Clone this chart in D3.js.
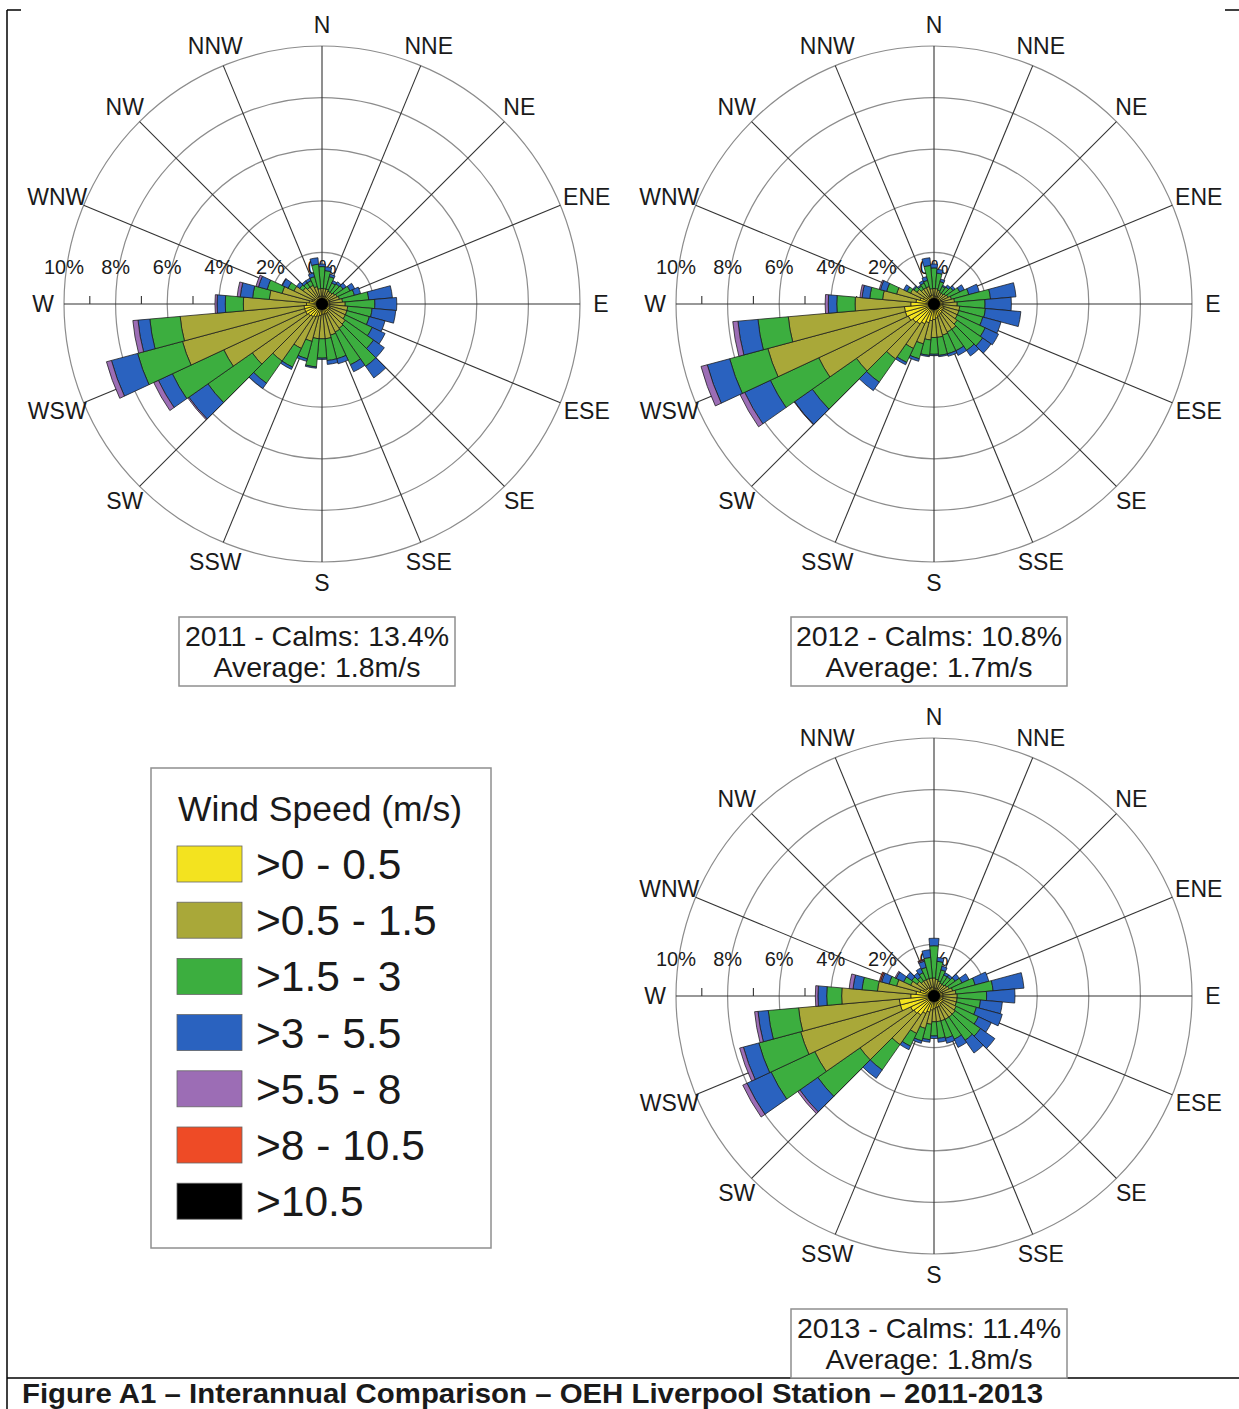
<!DOCTYPE html>
<html>
<head>
<meta charset="utf-8">
<title>Wind Roses - OEH Liverpool</title>
<style>
body { margin: 0; background: #fff; }
svg text { font-family: "Liberation Sans", Arial, Helvetica, sans-serif; fill: #1a1a1a; }
.ring { fill: none; stroke: #8c8c8c; stroke-width: 1.2px; }
.spoke { stroke: #333; stroke-width: 1.1px; }
.seg { stroke: #1a1a1a; stroke-width: 0.75px; }
.box { fill: #fff; stroke: #8f8f8f; stroke-width: 1.5px; }
.frame { stroke: #000; stroke-width: 1.5px; }
</style>
</head>
<body>
<script src="https://cdn.jsdelivr.net/npm/d3@7"></script>
<script>

// ---- Data ----

var directions = [0, 10, 20, 30, 40, 50, 60, 70, 80, 90, 100, 110, 120, 130, 140, 150, 160, 170,
                  180, 190, 200, 210, 220, 230, 240, 250, 260, 270, 280, 290, 300, 310, 320, 330, 340, 350];

var compassLabels = ["N", "NNE", "NE", "ENE", "E", "ESE", "SE", "SSE",
                     "S", "SSW", "SW", "WSW", "W", "WNW", "NW", "NNW"];

var ringValues = [2, 4, 6, 8, 10];
var percentLabels = [0, 2, 4, 6, 8, 10];
var minorTicks = [1, 3, 5, 7, 9];

var speedClasses = [">0 - 0.5", ">0.5 - 1.5", ">1.5 - 3", ">3 - 5.5", ">5.5 - 8", ">8 - 10.5", ">10.5"];
var speedColours = ["#f3e31f", "#a9a839", "#3cae3f", "#2a62bf", "#9c6db5", "#ee4b26", "#000000"];

var years = [2011, 2012, 2013];
var calms = [13.4, 10.8, 11.4];
var averages = [1.8, 1.7, 1.8];

// frequency (%) by direction, one array per speed class

var w2011_c1 = [.30,.30,.30,.30,.30,.30,.30,.30,.30,.30,.30,.30,.35,.35,.35,.40,.40,.40,
                .40,.45,.50,.55,.60,.65,.70,.70,.70,.60,.50,.40,.35,.30,.30,.30,.30,.30];
var w2011_c2 = [.30,.30,.30,.25,.25,.30,.35,.40,.50,.60,.70,.70,.65,.75,.80,.80,.85,.95,
                .95,.90,1.00,1.35,2.10,2.65,3.50,4.90,4.82,2.45,1.55,1.20,.85,.60,.50,.50,.40,.30];
var w2011_c3 = [.85,.70,.50,.35,.40,.40,.55,.60,1.02,1.15,.95,.90,1.15,1.34,1.80,1.40,.95,.85,
                .75,1.10,.70,.80,1.05,2.10,2.20,1.80,1.18,.70,.65,.60,.25,.15,.20,.20,.40,.95];
var w2011_c4 = [.10,.15,.10,.10,.10,.15,.20,.25,.92,.85,.92,.63,.55,.51,.55,.30,.20,.15,
                .05,.05,.10,.10,.25,.90,.60,1.05,.46,.32,.48,.35,.25,.15,.10,.10,.15,.25];
var w2011_c5 = [0,0,0,0,0,0,0,0,0,0,0,0,0,0,0,0,0,0,
                0,0,0,0,0,.05,.20,.20,.20,.08,.12,.10,.02,0,0,0,0,0];
var w2011_c6 = [0,0,0,0,0,0,0,0,0,0,0,0,0,0,0,0,0,0,
                0,0,0,0,0,0,0,0,0,0,0,0,0,0,0,0,0,0];
var w2011_c7 = [0,0,0,0,0,0,0,0,0,0,0,0,0,0,0,0,0,0,
                0,0,0,0,0,0,0,0,0,0,0,0,0,0,0,0,0,0];

var w2012_c1 = [.30,.30,.30,.30,.30,.30,.30,.30,.35,.35,.35,.40,.40,.40,.45,.45,.50,.55,
                .60,.65,.75,.85,.95,1.00,1.10,1.15,1.15,.90,.70,.55,.45,.35,.35,.35,.35,.35];
var w2012_c2 = [.30,.30,.25,.20,.20,.25,.30,.40,.45,.55,.65,.60,.60,.70,.75,.75,.75,.75,
                .70,.75,.85,1.05,1.65,2.67,3.83,5.52,4.52,2.16,1.30,.95,.55,.45,.35,.35,.35,.25];
var w2012_c3 = [.80,.60,.35,.25,.30,.35,.50,.70,1.40,1.08,1.00,.96,1.19,1.20,1.00,.80,.75,.70,
                .65,.60,.60,.60,1.10,2.09,2.07,1.53,1.18,.71,.50,.40,.15,.15,.15,.20,.25,.90];
var w2012_c4 = [.15,.15,.10,.05,.10,.10,.20,.42,.99,1.02,1.38,.73,.57,.40,.26,.20,.10,.05,
                .05,.05,.10,.10,.40,.84,1.10,.90,.78,.33,.30,.25,.15,.05,.05,.10,.15,.30];
var w2012_c5 = [0,0,0,0,0,0,0,0,0,0,0,0,0,0,0,0,0,0,
                0,0,0,0,0,.02,.20,.25,.20,.12,.08,.05,0,0,0,0,0,0];
var w2012_c6 = [0,0,0,0,0,0,0,0,0,0,0,0,0,0,0,0,0,0,
                0,0,0,0,0,0,0,0,0,0,0,0,0,0,0,0,0,0];
var w2012_c7 = [0,0,0,0,0,0,0,0,0,0,0,0,0,0,0,0,0,0,
                0,0,0,0,0,0,0,0,0,0,0,0,0,0,0,0,0,0];

var w2013_c1 = [.30,.30,.30,.30,.30,.30,.30,.35,.35,.35,.35,.35,.40,.40,.40,.45,.45,.45,
                .50,.55,.65,.75,.90,.95,1.00,1.35,1.35,.90,.70,.55,.45,.40,.40,.35,.35,.35];
var w2013_c2 = [.40,.35,.30,.25,.25,.30,.35,.40,.50,.55,.55,.55,.55,.60,.60,.55,.55,.55,
                .50,.55,.65,.85,1.40,2.55,4.10,4.00,3.92,2.68,1.50,.95,.55,.40,.30,.35,.35,.35];
var w2013_c3 = [1.25,.70,.45,.35,.35,.40,.55,.90,1.45,1.14,.91,.80,.95,1.20,1.10,.85,.70,.65,
                .55,.60,.50,.55,1.20,2.00,1.87,1.68,1.18,.58,.60,.30,.30,.25,.20,.30,.45,.80];
var w2013_c4 = [.29,.15,.15,.10,.10,.20,.30,.55,1.20,1.10,.85,1.04,.55,.68,.60,.35,.20,.15,
                .10,.10,.10,.15,.40,.85,1.03,.62,.40,.34,.35,.30,.32,.25,.20,.20,.25,.30];
var w2013_c5 = [0,0,0,0,0,0,0,0,0,0,0,0,0,0,0,0,0,0,
                0,0,0,0,0,.10,.18,.15,.13,.10,.15,.05,.05,0,0,0,.05,0];
var w2013_c6 = [0,0,0,0,0,0,0,0,0,0,0,0,0,0,0,0,0,0,
                0,0,0,0,0,0,0,0,0,0,0,.05,0,0,0,0,.03,0];
var w2013_c7 = [0,0,0,0,0,0,0,0,0,0,0,0,0,0,0,0,0,0,
                0,0,0,0,0,0,0,0,0,0,0,0,0,0,0,0,0,0];

// ---- Layout ----

var width = 1239, height = 1409;
var R = 258;            // radius of the 10% ring
var centres = [[322, 304], [934, 304], [934, 996]];
var boxes = [[179, 617], [791, 617], [791, 1309]];

var roses = [
    [w2011_c1, w2011_c2, w2011_c3, w2011_c4, w2011_c5, w2011_c6, w2011_c7],
    [w2012_c1, w2012_c2, w2012_c3, w2012_c4, w2012_c5, w2012_c6, w2012_c7],
    [w2013_c1, w2013_c2, w2013_c3, w2013_c4, w2013_c5, w2013_c6, w2013_c7]
];

var rad = d3.scaleLinear().domain([0, 10]).range([0, R]);
var half = 5 * Math.PI / 180;
var arc = d3.arc();

var svg = d3.select("body").append("svg")
    .attr("width", width)
    .attr("height", height);

// page frame
svg.append("line").attr("class", "frame").attr("x1", 7).attr("y1", 10).attr("x2", 7).attr("y2", height);
svg.append("line").attr("class", "frame").attr("x1", 7).attr("y1", 10).attr("x2", 21).attr("y2", 10);
svg.append("line").attr("class", "frame").attr("x1", 1225).attr("y1", 10).attr("x2", width).attr("y2", 10);
svg.append("line").attr("class", "frame").attr("x1", 7).attr("y1", 1378).attr("x2", width).attr("y2", 1378);

function drawRose(i) {
    var g = svg.append("g")
        .attr("transform", "translate(" + centres[i][0] + "," + centres[i][1] + ")");

    g.selectAll(".ring")
        .data(ringValues)
        .enter().append("circle")
        .attr("class", "ring")
        .attr("r", function(d) { return rad(d); });

    g.selectAll(".spoke")
        .data(compassLabels)
        .enter().append("line")
        .attr("class", "spoke")
        .attr("x1", 0).attr("y1", 0)
        .attr("x2", function(d, k) { return R * Math.sin(k * 22.5 * Math.PI / 180); })
        .attr("y2", function(d, k) { return -R * Math.cos(k * 22.5 * Math.PI / 180); });

    // minor ticks on the west axis
    g.selectAll(".tick")
        .data(minorTicks)
        .enter().append("line")
        .attr("class", "spoke")
        .attr("x1", function(d) { return -rad(d); })
        .attr("x2", function(d) { return -rad(d); })
        .attr("y1", 0).attr("y2", -8);

    g.selectAll(".pct")
        .data(percentLabels)
        .enter().append("text")
        .attr("x", function(d) { return -rad(d); })
        .attr("y", -30)
        .attr("text-anchor", "middle")
        .style("font-size", "20px")
        .text(function(d) { return d + "%"; });

    // stacked sectors
    var segs = [];
    var cls = roses[i];
    directions.forEach(function(dir, di) {
        var cum = 0;
        cls.forEach(function(arr, ci) {
            var v = arr[di];
            if (v > 0) {
                segs.push({dir: dir, inner: cum, outer: cum + v, cls: ci});
                cum += v;
            }
        });
    });

    g.selectAll(".seg")
        .data(segs)
        .enter().append("path")
        .attr("class", "seg")
        .attr("fill", function(d) { return speedColours[d.cls]; })
        .attr("d", function(d) {
            var a = d.dir * Math.PI / 180;
            return arc({innerRadius: rad(d.inner), outerRadius: rad(d.outer),
                        startAngle: a - half, endAngle: a + half});
        });

    g.append("circle").attr("r", 6).attr("fill", "#000");

    // compass labels
    g.selectAll(".dirlab")
        .data(compassLabels)
        .enter().append("text")
        .attr("text-anchor", "middle")
        .style("font-size", "23px")
        .attr("x", function(d, k) {
            var s = Math.sin(k * 22.5 * Math.PI / 180);
            var nudge = (Math.abs(s) > 0.9 && Math.abs(s) < 0.95) ? 7 : 0;
            return 279 * s + (s > 0 ? nudge : -nudge);
        })
        .attr("y", function(d, k) { return -279 * Math.cos(k * 22.5 * Math.PI / 180) + 8; })
        .text(function(d) { return d; });

    // calms box
    var b = svg.append("g").attr("transform", "translate(" + boxes[i][0] + "," + boxes[i][1] + ")");
    b.append("rect").attr("class", "box").attr("width", 276).attr("height", 69);
    b.append("text").attr("x", 138).attr("y", 29).attr("text-anchor", "middle")
        .style("font-size", "28.5px")
        .text(years[i] + " - Calms: " + calms[i] + "%");
    b.append("text").attr("x", 138).attr("y", 60).attr("text-anchor", "middle")
        .style("font-size", "28.5px")
        .text("Average: " + averages[i] + "m/s");
}

for (var i = 0; i < roses.length; i++) drawRose(i);

// legend
var lg = svg.append("g").attr("transform", "translate(151,768)");
lg.append("rect").attr("class", "box").attr("width", 340).attr("height", 480);
lg.append("text").attr("x", 27).attr("y", 53).style("font-size", "35.5px").text("Wind Speed (m/s)");
var rows = lg.selectAll(".row")
    .data(speedClasses)
    .enter().append("g")
    .attr("transform", function(d, k) { return "translate(26," + (96 + k * 56.2) + ")"; });
rows.append("rect")
    .attr("y", -18).attr("width", 65).attr("height", 36)
    .attr("fill", function(d, k) { return speedColours[k]; })
    .attr("stroke", "#666").attr("stroke-width", 0.8);
rows.append("text")
    .attr("x", 79).attr("y", 15)
    .style("font-size", "42.5px")
    .text(function(d) { return d; });

// caption
svg.append("text")
    .attr("x", 22).attr("y", 1403)
    .attr("textLength", 1021).attr("lengthAdjust", "spacingAndGlyphs")
    .style("font-size", "27px").style("font-weight", "bold")
    .text("Figure A1 \u2013 Interannual Comparison \u2013 OEH Liverpool Station \u2013 2011-2013");

</script>
</body>
</html>
